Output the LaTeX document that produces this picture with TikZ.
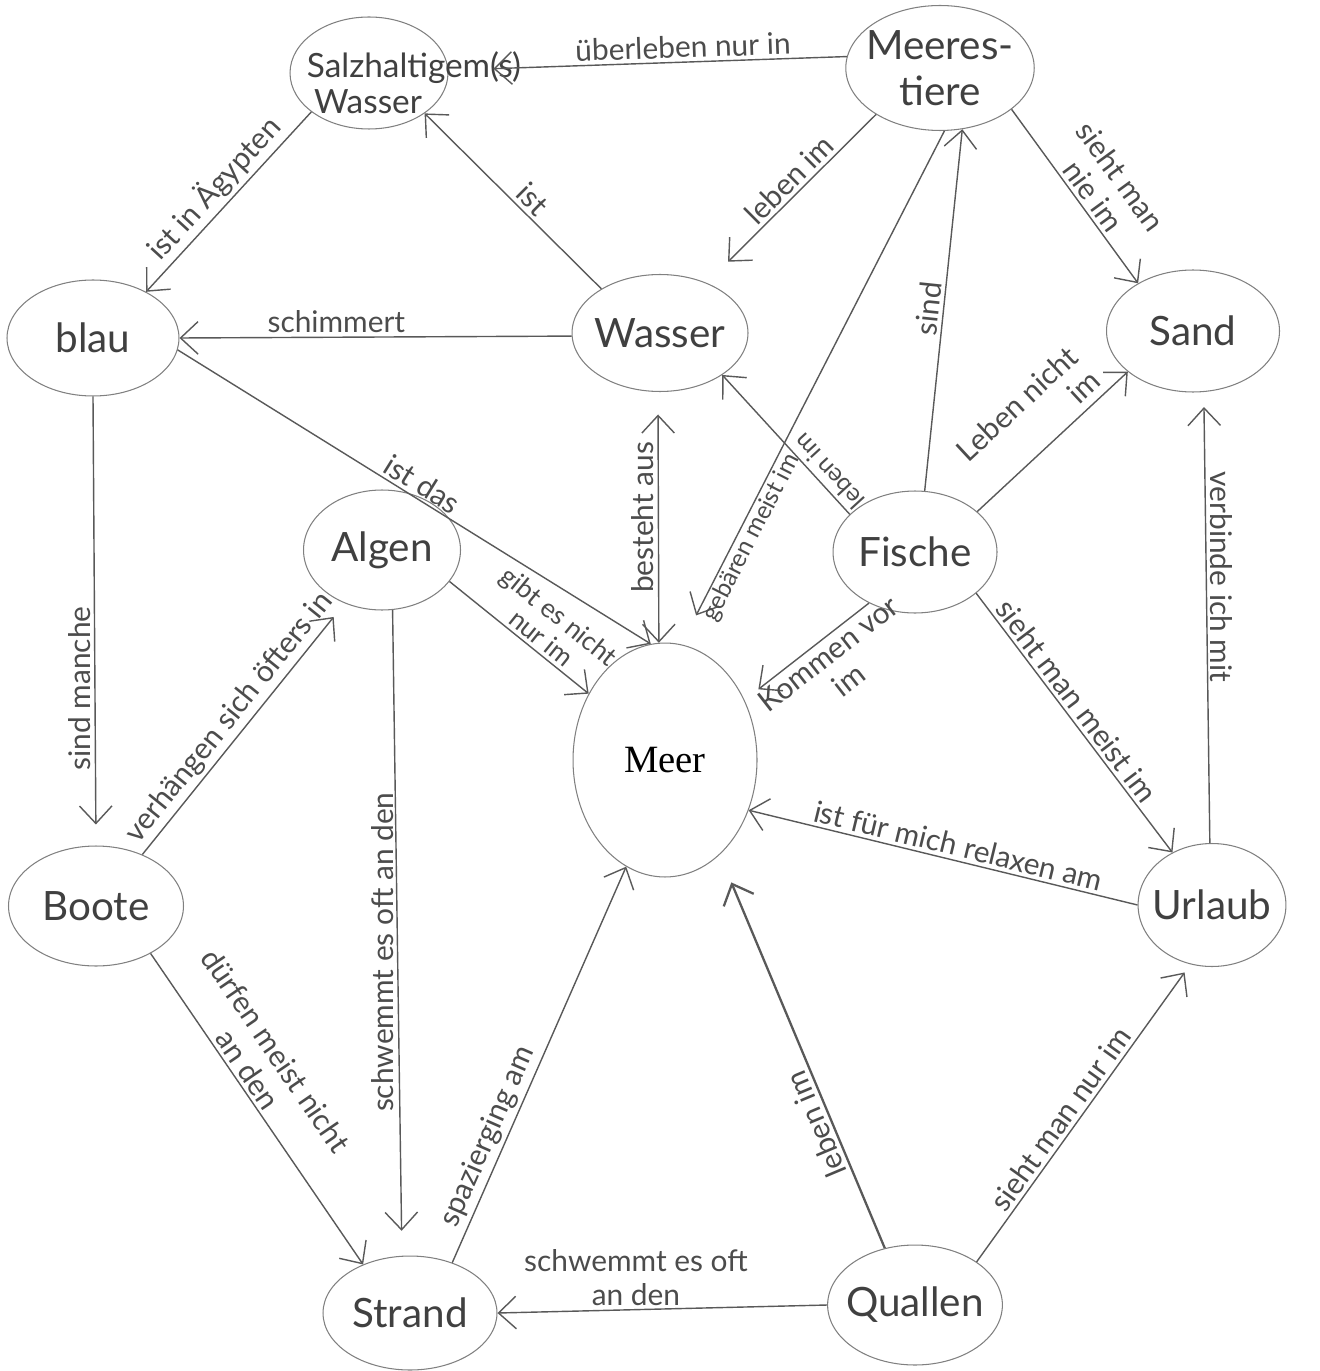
\documentclass[tikz,border=0pt]{standalone}
\usepackage{fontspec}
\setmainfont{Lato}
\newfontfamily\printfont{Liberation Serif}
\usetikzlibrary{arrows.meta,shapes.geometric}

\begin{document}
\begin{tikzpicture}[
    x=0.02cm, y=-0.02cm,
    concept/.style={ellipse, draw=black!50, line width=0.6pt, inner sep=-4pt, align=center,
        text=black!75, font=\fontsize{23}{26}\selectfont},
    lbl/.style={font=\fontsize{17}{19}\selectfont, inner sep=2pt, text=black!70},
    small/.style={font=\fontsize{15}{16}\selectfont},
    tiny/.style={font=\fontsize{14}{15}\selectfont},
    arrow/.style={draw=black!65, line width=0.8pt, -{Straight Barb[length=3.5mm,width=6.5mm]}},
    both/.style={arrow, {Straight Barb[length=3.5mm,width=6.5mm]}-{Straight Barb[length=3.5mm,width=6.5mm]}}
  ]
    \useasboundingbox (0,0) rectangle (1319,1371);

    % Begriffe
    \node[concept, minimum width=3.16cm, minimum height=2.24cm] (salz) at (369,73) {};
    \node[lbl, font=\fontsize{19}{21}\selectfont, text=black!75, anchor=west] (salztop) at (303,68) {Salzhaltigem(s)};
    \node[lbl, font=\fontsize{19}{21}\selectfont, text=black!75] (salzbottom) at (368,102) {Wasser};
    \node[concept, minimum width=3.4cm, minimum height=2.5cm] (meerestiere) at (940,68) {Meeres-\\tiere};
    \node[concept, minimum width=3.44cm, minimum height=2.32cm] (blau) at (93,338) {blau};
    \node[concept, minimum width=3.52cm, minimum height=2.34cm] (wasser) at (660,333) {Wasser};
    \node[concept, minimum width=3.46cm, minimum height=2.44cm] (sand) at (1193,331) {Sand};
    \node[concept, minimum width=3.14cm, minimum height=2.4cm] (algen) at (382,550) {Algen};
    \node[concept, minimum width=3.28cm, minimum height=2.44cm] (fische) at (915,552) {Fische};
    \node[concept, minimum width=3.68cm, minimum height=4.68cm, text=black,
          font=\printfont\fontsize{22}{24}\selectfont] (meer) at (665,760) {Meer};
    \node[concept, minimum width=3.5cm, minimum height=2.4cm] (boote) at (96,906) {Boote};
    \node[concept, minimum width=2.94cm, minimum height=2.46cm] (urlaub) at (1212,905) {Urlaub};
    \node[concept, minimum width=3.48cm, minimum height=2.28cm] (strand) at (410,1313) {Strand};
    \node[concept, minimum width=3.2cm, minimum height=2.4cm] (quallen) at (915,1305) {Quallen};

    % Verbindungen oben
    \draw[arrow, shorten >=0.9cm] (meerestiere.173) -- node[lbl, sloped, above, pos=0.41] {überleben nur in} (salz.2);
    \draw[arrow] (salz.214) -- node[lbl, sloped, above] {ist in Ägypten} (blau.41);
    \draw[arrow, shorten >=0.6cm] (meerestiere.216) -- node[lbl, sloped, above, pos=0.45] {leben im} (wasser.47);
    \draw[arrow] (meerestiere.-30) -- node[lbl, sloped, above, align=center, pos=0.55] {sieht man\\nie im} (sand.139);
    \draw[arrow] (wasser.143) -- node[lbl, sloped, above, pos=0.45] {ist} (salz.-36);
    \draw[arrow] (wasser.182) -- node[lbl, above, pos=0.6] {schimmert} (blau.east);
    \draw[arrow] (blau.-8) -- node[lbl, sloped, above, pos=0.5] {ist das} (meer.97);
    \draw[both, shorten <=0.45cm] (wasser.-92) -- node[lbl, rotate=90, anchor=south] {besteht aus} (meer.93);

    % Fische und Meerestiere
    \draw[arrow] (fische.81) -- node[lbl, sloped, above] {sind} (meerestiere.-70);
    \draw[arrow, shorten >=0.65cm] (meerestiere.-86) -- node[lbl, tiny, sloped, below, inner sep=1pt, pos=0.78] {gebären meist im} (meer.82);
    \draw[arrow] (fische.150) -- node[lbl, tiny, sloped, allow upside down, below, pos=0.24] {leben im} (wasser.-34);
    \draw[arrow] (fische.33) -- node[lbl, sloped, above, inner sep=4pt, align=right] {Leben nicht\\im} (sand.212);
    \draw[arrow, shorten >=0.35cm] (fische.228) -- node[lbl, sloped, below, align=center, pos=0.4] {Kommen vor\\im} (meer.37);
    \draw[arrow] (fische.-34) -- node[lbl, sloped, above, pos=0.45] {sieht man meist im} (urlaub.127);

    % rechte Seite
    \draw[arrow, shorten >=0.3cm] (urlaub.92) -- node[lbl, rotate=-90, anchor=south, pos=0.59] {verbinde ich mit} (sand.-80);
    \draw[arrow] (urlaub.west) -- node[lbl, sloped, above, pos=0.47] {ist für mich relaxen am} (meer.-31);

    % linke Seite
    \draw[arrow] (algen.-25) -- node[lbl, small, sloped, above, align=center, pos=0.6] {gibt es nicht\\nur im} (meer.139);
    \draw[arrow, shorten >=0.42cm] (blau.south) -- node[lbl, rotate=90, anchor=south, pos=0.65] {sind manche} (boote.north);
    \draw[arrow, shorten >=0.35cm] (boote.48) -- node[lbl, sloped, above, pos=0.5] {verhängen sich öfters in} (algen.235);
    \draw[arrow, shorten >=0.5cm] (algen.-80) -- node[lbl, rotate=90, anchor=south, pos=0.53] {schwemmt es oft an den} (strand.98);
    \draw[arrow] (boote.-41) -- node[lbl, sloped, above, align=center, pos=0.4] {dürfen meist nicht\\an den} (strand.134);
    \draw[arrow] (strand.50) -- node[lbl, sloped, above, pos=0.3] {spazierging am} (meer.-110);

    % Quallen
    \draw[arrow, line width=1.3pt, shorten >=0.6cm] (quallen.118) -- node[lbl, sloped, allow upside down, above, pos=0.33] {leben im} (meer.-60);
    \draw[arrow, shorten >=0.2cm] (quallen.35) -- node[lbl, sloped, above, pos=0.45] {sieht man nur im} (urlaub.250);
    \draw[arrow] (quallen.west) -- node[lbl, above, align=center, pos=0.58] {schwemmt es oft\\an den} (strand.east);
  \end{tikzpicture}
\end{document}
